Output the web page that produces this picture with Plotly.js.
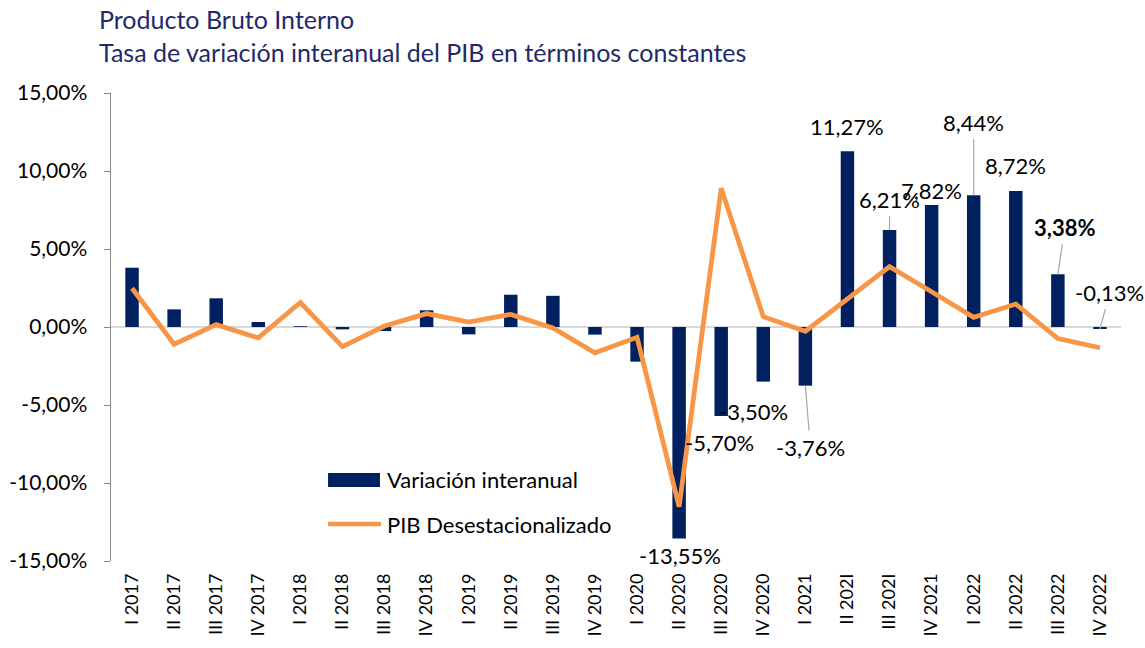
<!DOCTYPE html>
<html>
<head>
<meta charset="utf-8">
<script src="https://cdn.plot.ly/plotly-3.0.1.min.js"></script>
<style>html,body{margin:0;padding:0;background:#fff;overflow:hidden;}#chart{width:1145px;height:648px;}</style>
</head>
<body>
<div id="chart"></div>
<script>
var categories = ['I 2017','II 2017','III 2017','IV 2017','I 2018','II 2018','III 2018','IV 2018','I 2019','II 2019','III 2019','IV 2019','I 2020','II 2020','III 2020','IV 2020','I 2021','II 202I','III 202I','IV 2021','I 2022','II 2022','III 2022','IV 2022'];
var variacion = [3.8,1.13,1.84,0.32,0.05,-0.15,-0.26,1.07,-0.47,2.07,2.0,-0.49,-2.22,-13.55,-5.70,-3.50,-3.76,11.27,6.21,7.82,8.44,8.72,3.38,-0.13];
var pibDesest = [2.48,-1.1,0.15,-0.7,1.57,-1.26,0.06,0.86,0.32,0.81,-0.06,-1.65,-0.66,-11.52,8.89,0.66,-0.27,1.8,3.87,2.26,0.62,1.47,-0.74,-1.33];
var yTicks = [-15,-10,-5,0,5,10,15];
var seriesNames = ['Variación interanual','PIB Desestacionalizado'];
var titleLines = ['Producto Bruto Interno','Tasa de variación interanual del PIB en términos constantes'];

// labelled points: index, leader?, dx, dy (screen px, dy positive = down), bold
var labelSpec = [
  {i:13, lead:false, dx:1,  dy:17},
  {i:14, lead:false, dx:-2, dy:27},
  {i:15, lead:false, dx:-10,dy:30},
  {i:16, lead:true,  dx:5,  dy:62},
  {i:17, lead:false, dx:0,  dy:-25},
  {i:18, lead:true,  dx:0,  dy:-31},
  {i:19, lead:false, dx:0,  dy:-15},
  {i:20, lead:true,  dx:0,  dy:-73},
  {i:21, lead:false, dx:0,  dy:-25},
  {i:22, lead:true,  dx:7,  dy:-47, bold:true},
  {i:23, lead:true,  dx:10, dy:-37}
];

function fmt(v){ return v.toFixed(2).replace('.', ',') + '%'; }

var FONT = 'Lato, "Open Sans", sans-serif';
var FS = 22;

var annotations = labelSpec.map(function(s){
  var txt = fmt(variacion[s.i]);
  if (s.bold) txt = '<b>' + txt + '</b>';
  var a = {
    x: categories[s.i], y: variacion[s.i], xref:'x', yref:'y',
    text: txt, font:{family:FONT, size:FS, color:'#000'}
  };
  if (s.lead) {
    a.showarrow = true; a.arrowhead = 0; a.arrowwidth = 1.2; a.arrowcolor = '#a6a6a6';
    a.ax = s.dx; a.ay = s.dy; a.standoff = 0; a.startstandoff = 2;
  } else {
    a.showarrow = false; a.xshift = s.dx; a.yshift = -s.dy;
  }
  return a;
});

// title lines
annotations.push({xref:'paper', yref:'paper', x:-0.0139, y:1.158, xanchor:'left', yanchor:'middle', showarrow:false,
  text:titleLines[0], font:{family:FONT, size:25, color:'#1F2A6B'}});
annotations.push({xref:'paper', yref:'paper', x:-0.0139, y:1.088, xanchor:'left', yanchor:'middle', showarrow:false,
  text:titleLines[1], font:{family:FONT, size:25, color:'#1F2A6B'}});

// legend texts
annotations.push({xref:'paper', yref:'paper', x:0.2713, y:0.175, xanchor:'left', yanchor:'middle', showarrow:false,
  text:seriesNames[0], font:{family:FONT, size:FS, color:'#000'}});
annotations.push({xref:'paper', yref:'paper', x:0.2713, y:0.079, xanchor:'left', yanchor:'middle', showarrow:false,
  text:seriesNames[1], font:{family:FONT, size:FS, color:'#000'}});

var shapes = [
  {type:'rect', xref:'paper', yref:'paper', x0:0.2149, x1:0.2663, y0:0.158, y1:0.188, fillcolor:'#002060', line:{width:0}},
  {type:'line', xref:'paper', yref:'paper', x0:0.2149, x1:0.2673, y0:0.079, y1:0.079, line:{color:'#F79646', width:4.5}}
];

var traces = [
  {
    type:'bar', name:seriesNames[0], x:categories, y:variacion,
    marker:{color:'#002060'}, width:0.32
  },
  {
    type:'scatter', mode:'lines', name:seriesNames[1], x:categories, y:pibDesest,
    line:{color:'#F79646', width:4.8}
  }
];

var layout = {
  width:1145, height:648,
  margin:{l:111, r:24, t:93, b:87, pad:0},
  paper_bgcolor:'#fff', plot_bgcolor:'#fff',
  font:{family:FONT, size:FS, color:'#000'},
  separators:',.',
  xaxis:{
    type:'category', range:[-0.5, 23.5], tickangle:-90, showgrid:false, showline:false, zeroline:false, automargin:false,
    ticks:'', ticklabelstandoff:8, tickfont:{family:FONT, size:18, color:'#000'}
  },
  yaxis:{
    range:[-15,15], tickvals:yTicks, ticktext:yTicks.map(fmt), showgrid:false, automargin:false,
    showline:true, linecolor:'#868686', linewidth:1.5, ticks:'outside', ticklen:6, tickcolor:'#868686',
    zeroline:true, zerolinecolor:'#d9d9d9', zerolinewidth:2,
    ticklabelstandoff:12, tickfont:{family:FONT, size:21, color:'#000'}
  },
  showlegend:false,
  shapes:shapes,
  annotations:annotations
};

Plotly.newPlot('chart', traces, layout, {displayModeBar:false, staticPlot:true});
</script>
</body>
</html>
